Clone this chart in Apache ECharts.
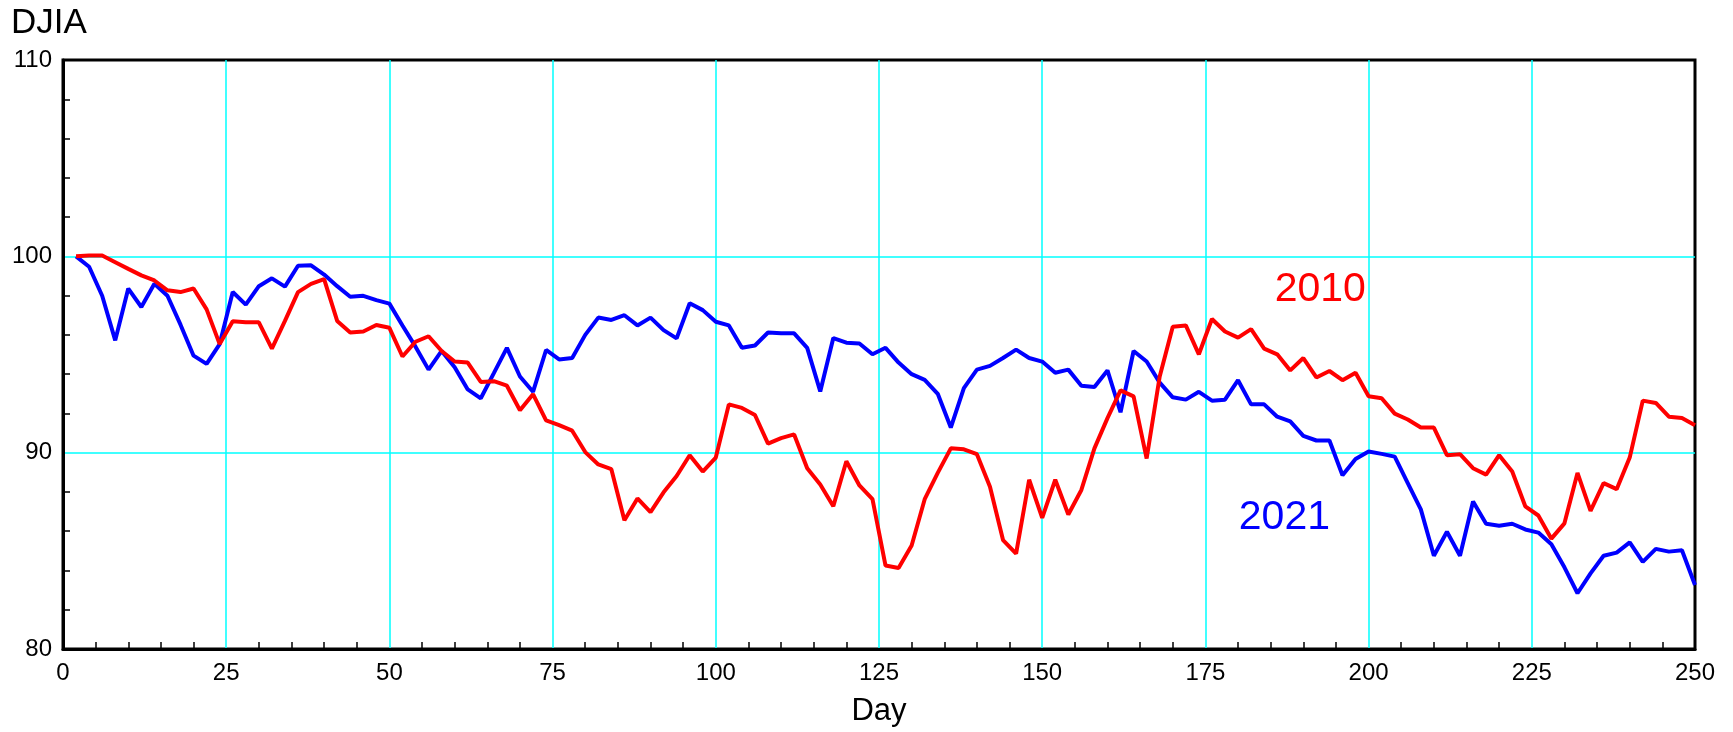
<!DOCTYPE html>
<html>
<head>
<meta charset="utf-8">
<script src="https://cdn.jsdelivr.net/npm/echarts@6/dist/echarts.min.js"></script>
<style>
  html, body { margin: 0; padding: 0; background: #fff; }
  #chart { width: 1733px; height: 732px; }
</style>
</head>
<body>
<div id="chart"></div>
<script>
// trading day index (every second day)
const days = [
  2, 4, 6, 8, 10, 12, 14, 16, 18, 20, 22, 24, 26, 28, 30, 32, 34, 36, 38, 40, 42, 44, 46, 48, 50,
  52, 54, 56, 58, 60, 62, 64, 66, 68, 70, 72, 74, 76, 78, 80, 82, 84, 86, 88, 90, 92, 94, 96, 98, 100,
  102, 104, 106, 108, 110, 112, 114, 116, 118, 120, 122, 124, 126, 128, 130, 132, 134, 136, 138, 140, 142, 144, 146, 148, 150,
  152, 154, 156, 158, 160, 162, 164, 166, 168, 170, 172, 174, 176, 178, 180, 182, 184, 186, 188, 190, 192, 194, 196, 198, 200,
  202, 204, 206, 208, 210, 212, 214, 216, 218, 220, 222, 224, 226, 228, 230, 232, 234, 236, 238, 240, 242, 244, 246, 248, 250
];

const djia2010 = [
  100.0, 100.04, 100.04, 99.7, 99.36, 99.03, 98.77, 98.27, 98.18, 98.36, 97.3, 95.53, 96.69, 96.64, 96.64, 95.3, 96.71, 98.18, 98.6, 98.84, 96.71, 96.12, 96.17, 96.5, 96.36,
  94.9, 95.65, 95.93, 95.18, 94.64, 94.59, 93.6, 93.64, 93.41, 92.16, 92.98, 91.64, 91.4, 91.12, 90.03, 89.4, 89.16, 86.56, 87.67, 86.97, 87.98, 88.81, 89.87, 89.04, 89.75,
  92.46, 92.28, 91.92, 90.46, 90.74, 90.93, 89.21, 88.38, 87.27, 89.56, 88.33, 87.63, 84.25, 84.13, 85.27, 87.63, 88.97, 90.22, 90.17, 89.92, 88.26, 85.55, 84.86, 88.62, 86.68,
  88.62, 86.85, 88.1, 90.22, 91.76, 93.17, 92.87, 89.7, 93.88, 96.41, 96.48, 95.01, 96.81, 96.17, 95.86, 96.29, 95.3, 95.01, 94.19, 94.82, 93.83, 94.16, 93.69, 94.07, 92.87,
  92.77, 91.99, 91.69, 91.28, 91.28, 89.87, 89.92, 89.21, 88.88, 89.87, 89.04, 87.27, 86.8, 85.62, 86.4, 88.97, 87.04, 88.45, 88.14, 89.75, 92.65, 92.53, 91.83, 91.76, 91.4
];

const djia2021 = [
  100.0, 99.47, 97.99, 95.72, 98.36, 97.42, 98.6, 97.99, 96.52, 94.94, 94.52, 95.53, 98.18, 97.54, 98.48, 98.88, 98.46, 99.52, 99.54, 99.07, 98.48, 97.94, 97.99, 97.77, 97.59,
  96.48, 95.4, 94.23, 95.18, 94.35, 93.22, 92.77, 94.05, 95.34, 93.88, 93.1, 95.23, 94.75, 94.82, 96.0, 96.88, 96.76, 97.0, 96.48, 96.88, 96.24, 95.82, 97.61, 97.26, 96.67,
  96.48, 95.34, 95.46, 96.12, 96.08, 96.08, 95.34, 93.12, 95.84, 95.6, 95.56, 95.01, 95.34, 94.59, 94.0, 93.71, 93.0, 91.28, 93.29, 94.23, 94.42, 94.82, 95.25, 94.82, 94.64,
  94.07, 94.23, 93.41, 93.34, 94.19, 92.06, 95.18, 94.64, 93.57, 92.82, 92.7, 93.1, 92.65, 92.7, 93.69, 92.46, 92.46, 91.83, 91.59, 90.86, 90.62, 90.62, 88.85, 89.68, 90.06,
  89.94, 89.8, 88.45, 87.11, 84.75, 85.97, 84.75, 87.51, 86.38, 86.28, 86.38, 86.09, 85.93, 85.34, 84.16, 82.84, 83.85, 84.75, 84.91, 85.43, 84.44, 85.1, 84.96, 85.03, 83.26
];

// where the year labels sit, in data units [day, value]
const label2010 = [192.6, 98.3];
const label2021 = [187.1, 86.7];

const font = "Liberation Sans";

function pairs(xs, ys) {
  return xs.map((x, i) => [x, ys[i]]);
}

function yearLabel(coord, text, color) {
  return {
    symbol: "circle",
    symbolSize: 1,
    itemStyle: { color: "rgba(0,0,0,0)" },
    label: {
      show: true,
      position: "inside",
      formatter: text,
      color: color,
      fontSize: 41,
      fontFamily: font
    },
    data: [{ coord: coord }]
  };
}

const chart = echarts.init(document.getElementById("chart"));
chart.setOption({
  animation: false,
  backgroundColor: "#fff",
  graphic: [
    {
      type: "text",
      left: 11,
      top: 6,
      style: { text: "DJIA", fontSize: 35, fill: "#000", fontFamily: font }
    }
  ],
  grid: {
    left: 63,
    right: 38,
    top: 60,
    bottom: 79,
    show: true,
    borderColor: "#000",
    borderWidth: 3,
    containLabel: false
  },
  xAxis: {
    type: "value",
    min: 0,
    max: 250,
    interval: 25,
    name: "Day",
    nameLocation: "middle",
    nameGap: 47,
    nameTextStyle: { fontSize: 31, color: "#000", fontFamily: font },
    axisLine: { show: true, lineStyle: { color: "#000", width: 3 } },
    axisTick: { show: false, inside: true },
    minorTick: { show: true, splitNumber: 5, length: 7, lineStyle: { color: "#000", width: 1.5 } },
    axisLabel: { fontSize: 24, color: "#000", margin: 12, fontFamily: font },
    splitLine: { show: true, showMinLine: false, showMaxLine: false, lineStyle: { color: "#00ffff", width: 1.5 } }
  },
  yAxis: {
    type: "value",
    min: 80,
    max: 110,
    interval: 10,
    axisLine: { show: true, lineStyle: { color: "#000", width: 3 } },
    axisTick: { show: false, inside: true },
    minorTick: { show: true, splitNumber: 5, length: 7, lineStyle: { color: "#000", width: 1.5 } },
    axisLabel: { fontSize: 24, color: "#000", margin: 11, fontFamily: font },
    splitLine: { show: true, showMinLine: false, showMaxLine: false, lineStyle: { color: "#00ffff", width: 1.5 } }
  },
  series: [
    {
      name: "2021",
      type: "line",
      data: pairs(days, djia2021),
      showSymbol: false,
      lineStyle: { color: "#0000ff", width: 4 },
      itemStyle: { color: "#0000ff" },
      markPoint: yearLabel(label2021, "2021", "#0000ff")
    },
    {
      name: "2010",
      type: "line",
      data: pairs(days, djia2010),
      showSymbol: false,
      lineStyle: { color: "#ff0000", width: 4 },
      itemStyle: { color: "#ff0000" },
      markPoint: yearLabel(label2010, "2010", "#ff0000")
    }
  ]
});
</script>
</body>
</html>
